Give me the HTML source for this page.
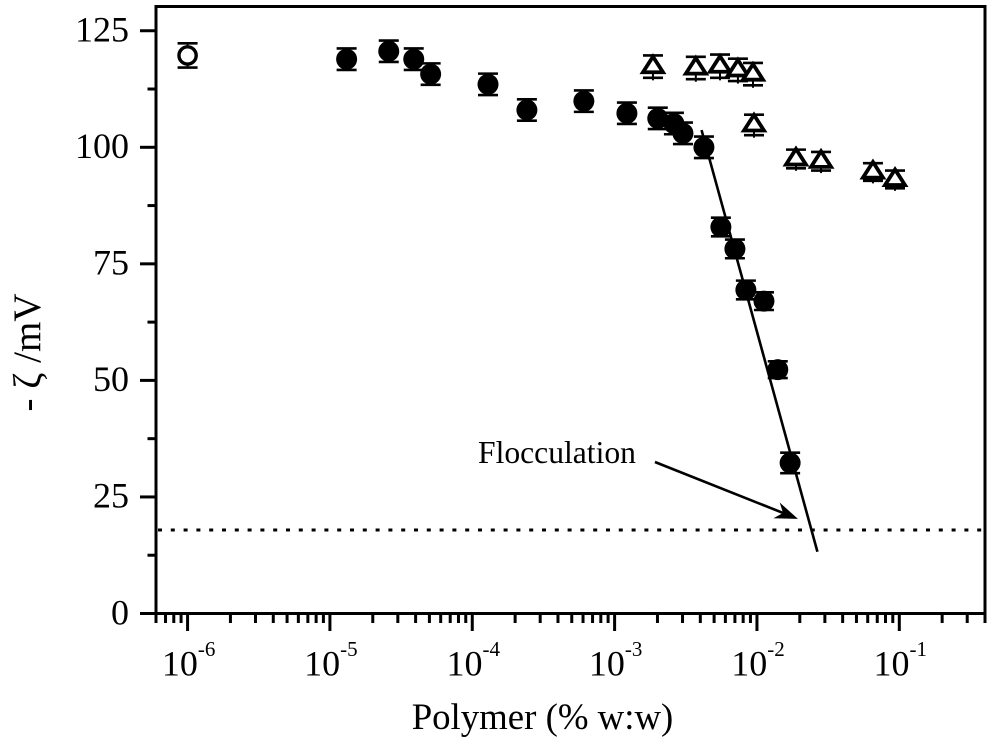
<!DOCTYPE html>
<html>
<head>
<meta charset="utf-8">
<title>Zeta potential vs polymer concentration</title>
<style>
html,body{margin:0;padding:0;background:#fff;}
svg{display:block;font-family:"Liberation Serif",serif;fill:#000;}
</style>
</head>
<body>
<svg id="chart" width="1000" height="742" viewBox="0 0 1000 742" xmlns="http://www.w3.org/2000/svg">
<rect x="0" y="0" width="1000" height="742" fill="#fff"/>
<text transform="translate(40,352.5) rotate(-90)" text-anchor="middle" font-size="39" fill="#000">- ζ /mV</text>
<text x="542.5" y="729" text-anchor="middle" font-size="36.8" fill="#000">Polymer (% w:w)</text>
<text x="478" y="463" font-size="31.6" fill="#000">Flocculation</text>
</svg>
<script>
var openConc = [1e-6];
var openZeta = [119.7];
var openErr = [2.6];

var filledConc = [1.31e-5,2.59e-5,3.88e-5,5.10e-5,1.29e-4,2.42e-4,6.08e-4,1.22e-3,2.01e-3,2.61e-3,3.02e-3,4.24e-3,5.58e-3,7.00e-3,8.36e-3,1.12e-2,1.40e-2,1.71e-2];
var filledZeta = [118.9,120.6,118.9,115.7,113.5,108,109.9,107.3,106.2,105.1,103,100,82.9,78.2,69.4,67,52.3,32.3];
var filledErr = [2.3,2.3,2.3,2.3,2.3,2.3,2.3,2.3,2.3,2.3,2.3,2.3,2,2,2,1.9,1.8,2.2];

var triConc = [1.86e-3,3.72e-3,5.50e-3,7.35e-3,9.38e-3,9.53e-3,1.88e-2,2.82e-2,6.53e-2,9.33e-2];
var triZeta = [117.3,117.0,117.4,116.6,115.7,104.8,97.5,97.0,94.7,93.1];
var triErr = [2.4,2.4,2.5,2.4,2.4,2.2,2.0,2.0,1.9,1.9];

var fitConc = [4.08e-3,2.66e-2];
var fitZeta = [103.7,13.25];
var flocLevel = [17.9];
var arrowConc = [1.92e-3,1.94e-2];
var arrowZeta = [32.5,20.3];

var yMajorTicks = [0,25,50,75,100,125];
var yMinorTicks = [12.5,37.5,62.5,87.5,112.5];
var xDecadeExponents = [-6,-5,-4,-3,-2,-1];
var xMinorMultipliers = [2,3,4,5,6,7,8,9];
var xDomain = [6e-7,0.4];
var yDomain = [0,130.2];

var svg = document.getElementById('chart');
var NS = 'http://www.w3.org/2000/svg';
var plotLeft = 156, plotRight = 985, plotBottom = 613.5, plotTop = 6.5;

function xScale(v){
  var a = Math.log10(xDomain[0]), b = Math.log10(xDomain[1]);
  return plotLeft + (Math.log10(v) - a) / (b - a) * (plotRight - plotLeft);
}
function yScale(v){
  return plotBottom - (v - yDomain[0]) / (yDomain[1] - yDomain[0]) * (plotBottom - plotTop);
}
function make(tag, attrs, parent){
  var el = document.createElementNS(NS, tag);
  for (var k in attrs) el.setAttribute(k, attrs[k]);
  (parent || svg).appendChild(el);
  return el;
}
function seg(x1,y1,x2,y2,w,parent){
  return make('line',{x1:x1,y1:y1,x2:x2,y2:y2,stroke:'#000','stroke-width':w},parent);
}
function group(){
  return make('g',{});
}

// flocculation level
var floc = seg(plotLeft+2,yScale(flocLevel[0]),plotRight,yScale(flocLevel[0]),3);
floc.setAttribute('stroke-dasharray','4 8.8');



// fit line
var fit = seg(xScale(fitConc[0]),yScale(fitZeta[0]),xScale(fitConc[1]),yScale(fitZeta[1]),2.6);



// flocculation arrow
var ax1 = xScale(arrowConc[0]), ay1 = yScale(arrowZeta[0]);
var ax2 = xScale(arrowConc[1]), ay2 = yScale(arrowZeta[1]);
var ang = Math.atan2(ay2-ay1, ax2-ax1);
function off(along, across){
  return (ax2 + along*Math.cos(ang) - across*Math.sin(ang)) + ',' + (ay2 + along*Math.sin(ang) + across*Math.cos(ang));
}
var arrowGroup = group();


seg(ax1,ay1,ax2-10*Math.cos(ang),ay2-10*Math.sin(ang),2.6,arrowGroup);
make('polygon',{points:[off(0,0),off(-23,-8.5),off(-16,0),off(-23,8.5)].join(' '),fill:'#000'},arrowGroup);

// error bars
function errorBar(parent,x,y,e,stub){
  var top = yScale(y+e), bot = yScale(y-e);
  seg(x,top,x,bot+stub,2,parent);
  seg(x-10,top,x+10,top,2.6,parent);
  seg(x-10,bot,x+10,bot,2.6,parent);
}

// open circle series
var openGroup = group();


openConc.forEach(function(c,i){
  var x = xScale(c);
  errorBar(openGroup,x,openZeta[i],openErr[i],0);
  var m = make('circle',{cx:x,cy:yScale(openZeta[i]),r:8.6,fill:'#fff',stroke:'#000','stroke-width':3.4},openGroup);
  
  
});

// triangles series
var triGroup = group();


triConc.forEach(function(c,i){
  var x = xScale(c), y = yScale(triZeta[i]);
  errorBar(triGroup,x,triZeta[i],triErr[i],2.5);
  var pts = x+','+(y-10)+' '+(x+10)+','+(y+5.6)+' '+(x-10)+','+(y+5.6);
  var m = make('polygon',{points:pts,fill:'#fff',stroke:'#000','stroke-width':3.8,'stroke-linejoin':'miter'},triGroup);
  
  
});

// filled circle series
var filledGroup = group();


filledConc.forEach(function(c,i){
  var x = xScale(c);
  errorBar(filledGroup,x,filledZeta[i],filledErr[i],0);
  var m = make('circle',{cx:x,cy:yScale(filledZeta[i]),r:10.5,fill:'#000'},filledGroup);
  
  
});

// axes frame
var frame = make('rect',{x:plotLeft,y:plotTop,width:plotRight-plotLeft,height:plotBottom-plotTop,fill:'none',stroke:'#000','stroke-width':3});



// y axis
var yAxis = group();


yMajorTicks.forEach(function(v){
  var y = yScale(v);
  seg(140,y,plotLeft,y,3,yAxis);
  var t = make('text',{x:129,y:y+10.8,'text-anchor':'end','font-size':36,fill:'#000'},yAxis);
  t.textContent = String(v);
  
  
});
yMinorTicks.forEach(function(v){
  var y = yScale(v);
  seg(147.5,y,plotLeft,y,3,yAxis);
});

// x axis
var xAxis = group();


var decades = [-7].concat(xDecadeExponents);
decades.forEach(function(ex){
  xMinorMultipliers.forEach(function(m){
    var v = m*Math.pow(10,ex);
    if (v < xDomain[0]*0.999 || v > xDomain[1]*1.001) return;
    var x = xScale(v);
    seg(x,plotBottom,x,623,3,xAxis);
  });
});
xDecadeExponents.forEach(function(ex){
  var x = xScale(Math.pow(10,ex));
  seg(x,plotBottom,x,631,3,xAxis);
  var t = make('text',{x:x+1,y:675.7,'text-anchor':'middle','font-size':36,fill:'#000'},xAxis);
  
  
  t.appendChild(document.createTextNode('10'));
  var s = make('tspan',{dy:-19.5,'font-size':21},t);
  s.textContent = String(ex);
});
</script>
</body>
</html>
